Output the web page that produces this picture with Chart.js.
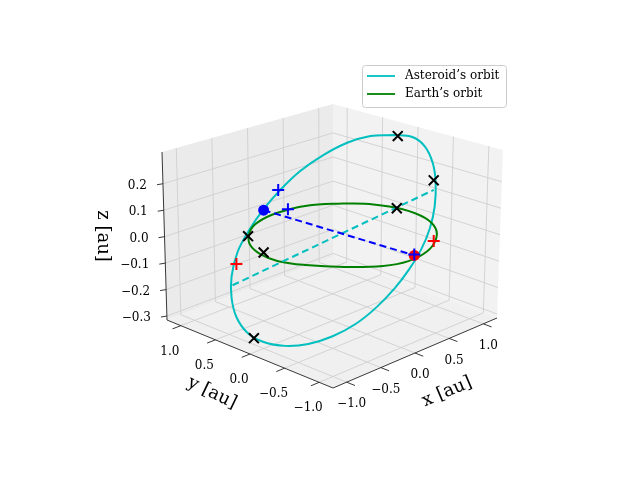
<!DOCTYPE html>
<html>
<head>
<meta charset="UTF-8">
<script src="https://cdn.jsdelivr.net/npm/chart.js"></script>
<style>
  html, body { margin: 0; padding: 0; background: #fff; }
  #wrap { width: 640px; height: 480px; }
</style>
</head>
<body>
<div id="wrap"><canvas id="myChart"></canvas></div>
<script>
// axis ticks (au)
const xTicks = [-1.0, -0.5, 0.0, 0.5, 1.0];
const yTicks = [-1.0, -0.5, 0.0, 0.5, 1.0];
const zTicks = [-0.3, -0.2, -0.1, 0.0, 0.1, 0.2];

// curves (image coordinates)
const asteroidOrbit = [[395,131],[415,133],[428,143],[436,160],[439,180],[438,205],[433,228],[424,250],[412,270],[397,290],[378,310],[357,327],[333,340],[308,348],[284,350],[262,346],[245,336],[234,320],[229,300],[229,278],[235,253],[247,230],[262,208],[280,187],[300,168],[323,152],[348,139],[372,132],[395,131]];
const earthOrbit = [[343,202],[375,203],[405,208],[428,217],[439,228],[439,240],[430,252],[411,262],[385,267],[345,268],[305,266],[277,262],[259,255],[248,245],[247,234],[253,224],[270,214],[297,206],[318,203],[343,202]];
const apsidesLine = [[230,287],[437,188]];
const earthLine = [[262,209],[417,256]];
const bluePoints = [[262,209]];
const redPoints = [[417,256]];
const bluePlus = [[277,188],[287,208],[417,255]];
const redPlus = [[234,265],[437,241]];
const blackX = [[400,132],[437,178],[399,207],[246,236],[262,253],[252,342]];

// box range and its projected corners (pixels)
const XR = [-1.2, 1.2], YR = [-1.2, 1.2], ZR = [-0.315, 0.32];
const C = {
  '000': [333,388], '100': [497,318], '010': [167,320], '110': [333,257],
  '001': [333,203], '101': [503,150], '011': [162,152], '111': [333,104]
};
function lerp(a, b, t) { return [a[0] + (b[0]-a[0])*t, a[1] + (b[1]-a[1])*t]; }
function proj(x, y, z) {
  const u = (x - XR[0]) / (XR[1]-XR[0]), v = (y - YR[0]) / (YR[1]-YR[0]), w = (z - ZR[0]) / (ZR[1]-ZR[0]);
  const b0 = lerp(lerp(C['000'], C['100'], u), lerp(C['010'], C['110'], u), v);
  const b1 = lerp(lerp(C['001'], C['101'], u), lerp(C['011'], C['111'], u), v);
  return lerp(b0, b1, w);
}
const pts = a => a.map(p => ({x: p[0], y: p[1]}));
const minus = v => v.toFixed(1).replace('-', '\u2212');

const boxPlugin = {
  id: 'box',
  beforeDatasetsDraw(chart) {
    const c = chart.ctx;
    const poly = (cs, fill) => {
      c.beginPath(); cs.forEach((p, i) => i ? c.lineTo(p[0], p[1]) : c.moveTo(p[0], p[1]));
      c.closePath(); c.fillStyle = fill; c.fill();
    };
    const seg = (a, b, col, w) => {
      c.beginPath(); c.moveTo(a[0], a[1]); c.lineTo(b[0], b[1]);
      c.strokeStyle = col; c.lineWidth = w; c.stroke();
    };
    c.save();
    poly([C['010'], C['110'], C['111'], C['011']], '#ebebeb');
    poly([C['110'], C['100'], C['101'], C['111']], '#f2f2f2');
    poly([C['000'], C['100'], C['110'], C['010']], '#f0f0f0');
    const g = '#cfcfcf';
    xTicks.forEach(x => {
      seg(proj(x, YR[1], ZR[0]), proj(x, YR[1], ZR[1]), g, 0.9);
      seg(proj(x, YR[0], ZR[0]), proj(x, YR[1], ZR[0]), g, 0.9);
    });
    yTicks.forEach(y => {
      seg(proj(XR[1], y, ZR[0]), proj(XR[1], y, ZR[1]), g, 0.9);
      seg(proj(XR[0], y, ZR[0]), proj(XR[1], y, ZR[0]), g, 0.9);
    });
    zTicks.forEach(z => {
      seg(proj(XR[0], YR[1], z), proj(XR[1], YR[1], z), g, 0.9);
      seg(proj(XR[1], YR[1], z), proj(XR[1], YR[0], z), g, 0.9);
    });
    // axis lines
    seg(C['000'], C['100'], '#222', 0.9);
    seg(C['000'], C['010'], '#222', 0.9);
    seg(C['010'], C['011'], '#222', 0.9);
    c.font = '12px "DejaVu Serif"';
    c.fillStyle = '#000';
    c.textAlign = 'center'; c.textBaseline = 'middle';
    xTicks.forEach(x => {
      const a = proj(x, YR[0], ZR[0]), b = proj(x, YR[0] - 0.12, ZR[0]);
      seg(a, b, '#222', 0.9);
      c.fillText(minus(x), a[0] + 5, a[1] + 22);
    });
    yTicks.forEach(y => {
      const a = proj(XR[0], y, ZR[0]), b = proj(XR[0] - 0.12, y, ZR[0]);
      seg(a, b, '#222', 0.9);
      c.fillText(minus(y), a[0] - 11, a[1] + 26);
    });
    c.textAlign = 'right';
    zTicks.forEach(z => {
      const a = proj(XR[0], YR[1], z);
      seg(a, [a[0] - 6, a[1] + 1], '#222', 0.9);
      c.fillText(minus(z), a[0] - 16, a[1] + 2);
    });
    // axis titles
    c.font = '18px "DejaVu Serif"';
    c.textAlign = 'center';
    const label = (t, x, y, ang) => {
      c.save(); c.translate(x, y); c.rotate(ang); c.fillText(t, 0, 0); c.restore();
    };
    label('x [au]', 447, 392, -0.40);
    label('y [au]', 212, 393, 0.45);
    label('z [au]', 103, 236, Math.PI / 2);
    c.restore();
  },
  afterDraw(chart) {
    const c = chart.ctx;
    c.save();
    c.beginPath();
    c.roundRect(362.5, 65.5, 144, 42, 3);
    c.fillStyle = 'rgba(255,255,255,0.8)'; c.fill();
    c.strokeStyle = '#cccccc'; c.lineWidth = 1; c.stroke();
    const items = [['Asteroid\u2019s orbit', '#00bfbf', 76], ['Earth\u2019s orbit', '#008000', 94]];
    c.font = '12px "DejaVu Serif"'; c.textBaseline = 'middle'; c.textAlign = 'left';
    items.forEach(([t, col, y]) => {
      c.beginPath(); c.moveTo(367, y); c.lineTo(395, y);
      c.strokeStyle = col; c.lineWidth = 1.8; c.stroke();
      c.fillStyle = '#000'; c.fillText(t, 405, y);
    });
    c.restore();
  }
};

const line = (data, color, dash, order) => ({
  data: pts(data), showLine: true, borderColor: color, borderWidth: 2,
  borderDash: dash, pointRadius: 0, tension: dash.length ? 0 : 0.4, order: order
});
const marker = (data, style, color, r, order) => ({
  data: pts(data), showLine: false, pointStyle: style, pointRadius: r,
  borderColor: color, backgroundColor: color, borderWidth: 2, order: order
});

new Chart(document.getElementById('myChart'), {
  type: 'scatter',
  data: {
    datasets: [
      line(asteroidOrbit, '#00bfbf', [], 10),
      line(earthOrbit, '#008000', [], 9),
      line(apsidesLine, '#00bfbf', [7, 4], 8),
      line(earthLine, '#0000ff', [7, 4], 7),
      marker(bluePoints, 'circle', '#0000ff', 4.5, 5),
      marker(redPoints, 'circle', '#ff0000', 4.5, 4),
      marker(blackX, 'crossRot', '#000000', 7, 3),
      marker(redPlus, 'cross', '#ff0000', 6, 2),
      marker(bluePlus, 'cross', '#0000ff', 6, 1)
    ]
  },
  options: {
    animation: false,
    responsive: true,
    maintainAspectRatio: false,
    layout: { padding: 0 },
    plugins: { legend: { display: false }, tooltip: { enabled: false } },
    scales: {
      x: { type: 'linear', min: 0, max: 640, display: false },
      y: { type: 'linear', min: 0, max: 480, reverse: true, display: false }
    }
  },
  plugins: [boxPlugin]
});
</script>
</body>
</html>
